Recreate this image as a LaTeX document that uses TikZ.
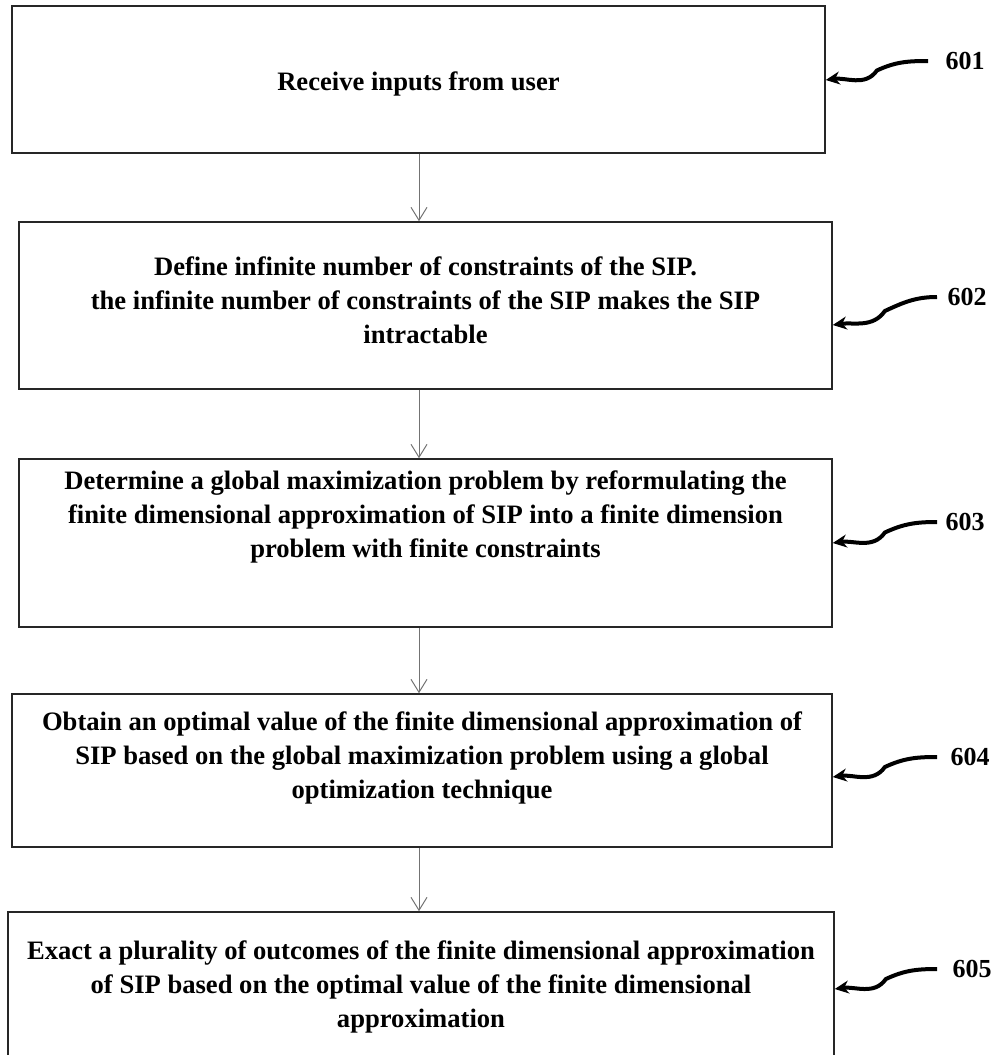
\documentclass[tikz,border=0pt]{standalone}
\usepackage{fontspec}
\setmainfont{Liberation Serif}
\usetikzlibrary{arrows.meta, calc}

\begin{document}
\begin{tikzpicture}[x=0.5pt, y=-0.5pt]
    \tikzstyle{box}=[draw=black!85, line width=0.75pt, inner sep=0pt]
    \tikzstyle{txt}=[align=center, font=\fontsize{13.3}{17}\selectfont\bfseries]
    \tikzstyle{num}=[font=\fontsize{13}{15}\selectfont\bfseries]
    \tikzstyle{e}=[-{Straight Barb[length=6.5pt,width=8pt]}, black!55, line width=0.5pt]
    \tikzstyle{lead}=[-{Stealth[length=7pt,width=6.5pt]}, line width=2pt]

    \useasboundingbox (0,0) rectangle (996,1055);
    \clip (0,0) rectangle (996,1055);

    % step boxes
    \node[box, minimum width=406.5pt, minimum height=73.5pt] (b1) at (418.5,79.5) {};
    \node[box, minimum width=406.5pt, minimum height=83.5pt] (b2) at (425.5,305.5) {};
    \node[box, minimum width=406.5pt, minimum height=84pt] (b3) at (425.5,543) {};
    \node[box, minimum width=410pt, minimum height=76.5pt] (b4) at (422,770.5) {};
    \node[box, minimum width=413pt, minimum height=75pt] (b5) at (421,987) {};

    \node[txt] (t1) at (418.5,84) {Receive inputs from user};
    \node[txt] (t2) at (425.5,300) {Define infinite number of constraints of the SIP.\\
        the infinite number of constraints of the SIP makes the SIP\\ intractable};
    \node[txt] (t3) at (425.5,517) {Determine a global maximization problem by reformulating the\\
        finite dimensional approximation of SIP into a finite dimension\\ problem with finite constraints};
    \node[txt] (t4) at (422,758) {Obtain an optimal value of the finite dimensional approximation of\\
        SIP based on the global maximization problem using a global\\ optimization technique};
    \node[txt] (t5) at (421,987) {Exact a plurality of outcomes of the finite dimensional approximation\\
        of SIP based on the optimal value of the finite dimensional\\ approximation};

    % flow
    \coordinate (ax) at (419,0);
    \draw[e] (b1.south -| ax) -- (b2.north -| ax);
    \draw[e] (b2.south -| ax) -- (b3.north -| ax);
    \draw[e] (b3.south -| ax) -- (b4.north -| ax);
    \draw[e] (b4.south -| ax) -- (b5.north -| ax);

    % reference numerals
    \node[num] (l1) at (965,61) {601};
    \node[num] (l2) at (967,297) {602};
    \node[num] (l3) at (965,522) {603};
    \node[num] (l4) at (970,757) {604};
    \node[num] (l5) at (972,969) {605};

    \coordinate (s1) at (928,61);   \coordinate (e1) at (b1.east |- 0,80);
    \coordinate (s2) at (937,297);  \coordinate (e2) at (b2.east |- 0,325);
    \coordinate (s3) at (937,522);  \coordinate (e3) at (b3.east |- 0,543);
    \coordinate (s4) at (937,757);  \coordinate (e4) at (b4.east |- 0,777);
    \coordinate (s5) at (937,969);  \coordinate (e5) at (b5.east |- 0,989);

    \draw[lead] (s1) to[out=180,in=25] ($(s1)!.5!(e1)$) to[out=235,in=8] (e1);
    \draw[lead] (s2) to[out=180,in=25] ($(s2)!.5!(e2)$) to[out=235,in=8] (e2);
    \draw[lead] (s3) to[out=180,in=25] ($(s3)!.5!(e3)$) to[out=235,in=8] (e3);
    \draw[lead] (s4) to[out=180,in=25] ($(s4)!.5!(e4)$) to[out=235,in=8] (e4);
    \draw[lead] (s5) to[out=180,in=25] ($(s5)!.5!(e5)$) to[out=235,in=8] (e5);

\end{tikzpicture}
\end{document}
